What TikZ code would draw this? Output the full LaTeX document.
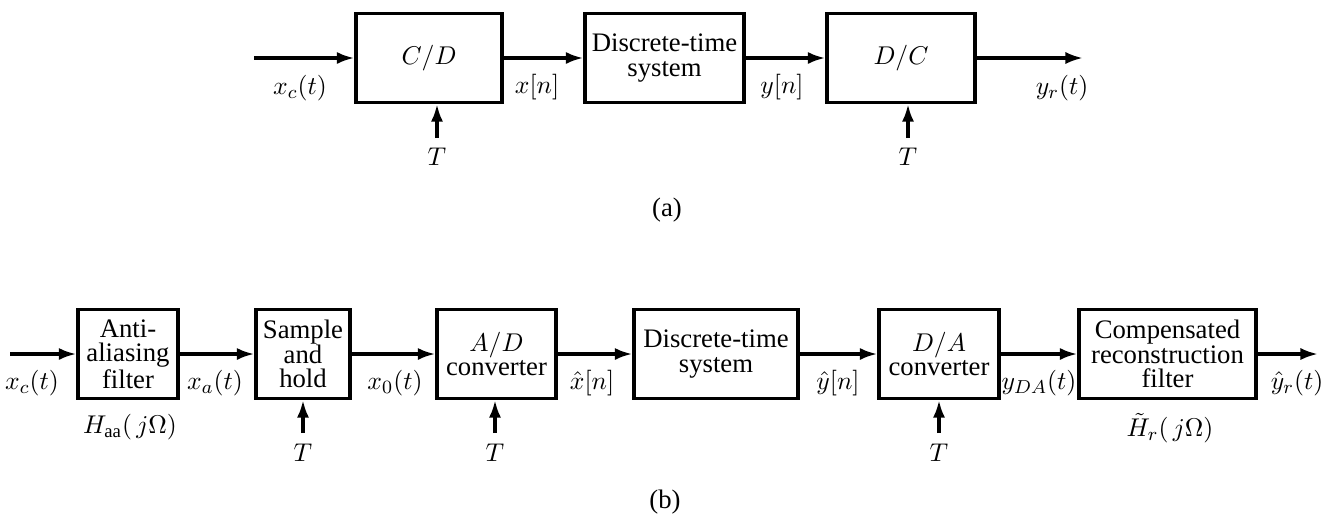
\documentclass[tikz,border=0pt]{standalone}
\usepackage{fontspec}
\setmainfont{Liberation Serif}
\usetikzlibrary{arrows.meta}

\begin{document}
\begin{tikzpicture}[x=0.015cm, y=-0.015cm, line width=1.4pt,
  every node/.style={font=\fontsize{11.4}{10.4}\selectfont, inner sep=1pt},
  blk/.style={draw, align=center, minimum height=1.335cm},
  sig/.style={-{Latex[length=7.5pt,width=5.2pt]}}]
\useasboundingbox (0,0) rectangle (1333,513);
% (a) ideal system
\node[blk,minimum width=2.19cm] (cd) at (429,58) {$C/D$};
\node[blk,minimum width=2.385cm] (dta) at (664.5,58) {Discrete-time\\system};
\node[blk,minimum width=2.22cm] (dc) at (901,58) {$D/C$};
\coordinate (ina) at (254,58);
\coordinate (outa) at (1083,58);
\draw[sig] (ina) -- (cd);
\draw[sig] (cd) -- (dta);
\draw[sig] (dta) -- (dc);
\draw[sig] (dc) -- (outa);
\node (xca) at (300,88) {$x_c(t)$};
\node (xn) at (537,87) {$x[n]$};
\node (yn) at (782,87) {$y[n]$};
\node (yra) at (1062,88) {$y_r(t)$};
\coordinate (tcd) at (437,138);
\coordinate (tdc) at (908,138);
\draw[sig] (tcd) -- (tcd |- cd.south);
\draw[sig] (tdc) -- (tdc |- dc.south);
\node (Tcd) at (437,157) {$T$};
\node (Tdc) at (908,157) {$T$};
\node (capa) at (667,210) {(a)};
% (b) practical system
\node[blk,minimum width=1.5cm] (aa) at (128,354) {Anti-\\aliasing\\filter};
\node[blk,minimum width=1.41cm] (sh) at (303,354) {Sample\\and\\hold};
\node[blk,minimum width=1.785cm] (ad) at (496.5,354) {$A/D$\\converter};
\node[blk,minimum width=2.46cm] (dtb) at (716,354) {Discrete-time\\system};
\node[blk,minimum width=1.8cm] (da) at (939,354) {$D/A$\\converter};
\node[blk,minimum width=2.655cm] (crf) at (1167.5,354) {Compensated\\reconstruction\\filter};
\coordinate (inb) at (10,354);
\coordinate (outb) at (1318,354);
\draw[sig] (inb) -- (aa);
\draw[sig] (aa) -- (sh);
\draw[sig] (sh) -- (ad);
\draw[sig] (ad) -- (dtb);
\draw[sig] (dtb) -- (da);
\draw[sig] (da) -- (crf);
\draw[sig] (crf) -- (outb);
\node (xcb) at (32,383) {$x_c(t)$};
\node (xat) at (215,383) {$x_a(t)$};
\node (x0t) at (395,383) {$x_0(t)$};
\node (xhn) at (592,383) {$\hat{x}[n]$};
\node (yhn) at (838,383) {$\hat{y}[n]$};
\node (yda) at (1039,383) {$y_{DA}(t)$};
\node (yhr) at (1297,383) {$\hat{y}_r(t)$};
\node (haa) at (130,427) {$H_{\mathrm{aa}}(\,j\Omega)$};
\node (hr) at (1170,428) {$\tilde{H}_r(\,j\Omega)$};
\coordinate (tsh) at (303,433);
\coordinate (tad) at (495,433);
\coordinate (tda) at (939,433);
\draw[sig] (tsh) -- (tsh |- sh.south);
\draw[sig] (tad) -- (tad |- ad.south);
\draw[sig] (tda) -- (tda |- da.south);
\node (Tsh) at (303,453) {$T$};
\node (Tad) at (495,453) {$T$};
\node (Tda) at (939,453) {$T$};
\node (capb) at (665,502) {(b)};
\end{tikzpicture}
\end{document}
